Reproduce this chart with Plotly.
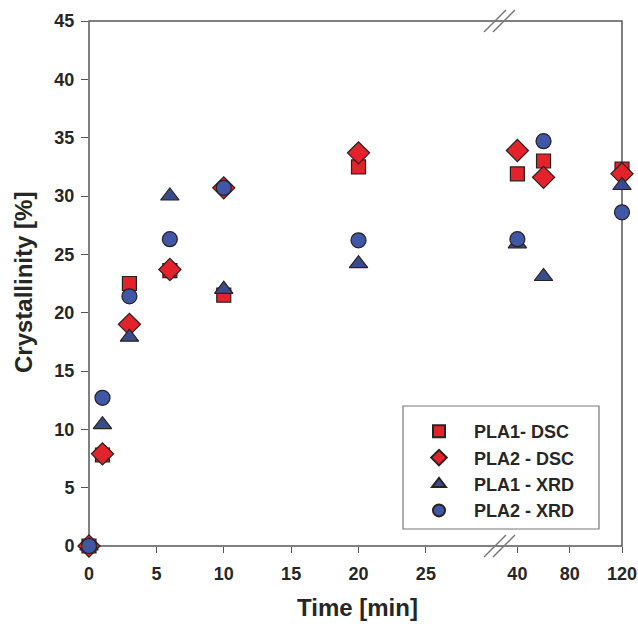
import plotly.graph_objects as go

time = [0, 1, 3, 6, 10, 20, 40, 60, 120]
pla1_dsc = [0, 7.8, 22.5, 23.6, 21.5, 32.5, 31.9, 33.0, 32.3]
pla2_dsc = [0, 7.9, 19.0, 23.7, 30.7, 33.7, 33.9, 31.6, 31.9]
pla1_xrd = [0, 10.4, 17.9, 30.0, 22.0, 24.2, 25.9, 23.1, 30.9]
pla2_xrd = [0, 12.7, 21.4, 26.3, 30.7, 26.2, 26.3, 34.7, 28.6]

series_names = ["PLA1- DSC", "PLA2 - DSC", "PLA1 - XRD", "PLA2 - XRD"]
x_ticks_left = [0, 5, 10, 15, 20, 25]
x_ticks_right = [40, 80, 120]
y_ticks = [0, 5, 10, 15, 20, 25, 30, 35, 40, 45]
break_at = 30  # times above this go to the right-hand segment

RED = "#e3222b"
BLUE_C = "#3f57a6"
BLUE_T = "#394c8a"
EDGE = "#2a2020"

styles = [
    dict(symbol="square", size=14, color=RED),
    dict(symbol="diamond", size=17, color=RED),
    dict(symbol="triangle-up", size=16, color=BLUE_T),
    dict(symbol="circle", size=15, color=BLUE_C),
]
values = [pla1_dsc, pla2_dsc, pla1_xrd, pla2_xrd]

FONT = "Liberation Sans, Arial, sans-serif"
TXT = "#262626"

fig = go.Figure()
for name, vals, st in zip(series_names, values, styles):
    xl = [t for t in time if t <= break_at]
    yl = [v for t, v in zip(time, vals) if t <= break_at]
    xr = [t for t in time if t > break_at]
    yr = [v for t, v in zip(time, vals) if t > break_at]
    mk = dict(symbol=st["symbol"], size=st["size"], color=st["color"],
              line=dict(color=EDGE, width=1.2))
    fig.add_trace(go.Scatter(x=xl, y=yl, mode="markers", name=name, marker=mk,
                             legendgroup=name, xaxis="x", yaxis="y",
                             cliponaxis=False))
    fig.add_trace(go.Scatter(x=xr, y=yr, mode="markers", name=name, marker=mk,
                             legendgroup=name, showlegend=False,
                             xaxis="x2", yaxis="y", cliponaxis=False))

# page body margin is removed in the page (post_script); design in page pixels
W, H = 638, 627
PL, PR, PT, PB = 89, 622, 21, 546   # plot area in page pixels
L, T = PL, PT
R, B = W - PR, H - PB
pw = PR - PL
ph = PB - PT
brk_px = 500
d1 = (brk_px - PL) / pw


def px2paper(px, py):
    return (px - PL) / pw, (PB - py) / ph


tickfont = dict(family=FONT, size=18, color=TXT, weight="bold")
axcommon = dict(ticks="outside", tickwidth=1.2, tickcolor="#555", automargin=False,
                showgrid=False, zeroline=False, showline=False, tickfont=tickfont,
                ticklabeloverflow="allow")

lx, ly = px2paper(404, 413)
fig.update_layout(
    width=W, height=H,
    margin=dict(l=L, r=R, t=T, b=B),
    paper_bgcolor="white", plot_bgcolor="white",
    showlegend=True,
    xaxis=dict(domain=[0, d1], range=[0, 30.5], tickvals=x_ticks_left,
               ticklen=6, ticklabelstandoff=5, anchor="y", **axcommon),
    xaxis2=dict(domain=[d1, 1], range=[26.7, 120], tickvals=x_ticks_right,
                ticklen=6, ticklabelstandoff=5, anchor="y", **axcommon),
    yaxis=dict(range=[0, 45], tickvals=y_ticks, anchor="x", ticklen=7,
               ticklabelstandoff=3, **axcommon),
    legend=dict(x=lx, y=ly, xanchor="left", yanchor="top",
                borderwidth=0, bgcolor="rgba(0,0,0,0)",
                itemwidth=60, tracegroupgap=0, itemsizing="constant",
                font=dict(family=FONT, size=18, color=TXT, weight="bold")),
)

tx, ty = px2paper(357, 607)
fig.add_annotation(text="Time [min]", xref="paper", yref="paper",
                   x=tx, y=ty, showarrow=False, xanchor="center", yanchor="middle",
                   font=dict(family=FONT, size=24, color=TXT, weight="bold"))
yx, yy = px2paper(23, 283)
fig.add_annotation(text="Crystallinity [%]", xref="paper", yref="paper",
                   x=yx, y=yy, showarrow=False, textangle=-90,
                   xanchor="center", yanchor="middle",
                   font=dict(family=FONT, size=24, color=TXT, weight="bold"))

# frame
fig.add_shape(type="rect", xref="paper", yref="paper", x0=0, x1=1, y0=0, y1=1,
              line=dict(color="#555", width=1.5), layer="below")

# legend box
bx0, by0 = px2paper(403, 529)
bx1, by1 = px2paper(599, 406)
fig.add_shape(type="rect", xref="paper", yref="paper", x0=bx0, x1=bx1, y0=by0, y1=by1,
              line=dict(color="#777", width=1.2), layer="below")

# axis-break marks
for ybase in (PT, PB):
    for dx in (0, 9):
        x0, y0 = px2paper(484 + dx, ybase + 11)
        x1, y1 = px2paper(506 + dx, ybase - 11)
        fig.add_shape(type="line", xref="paper", yref="paper",
                      x0=x0, y0=y0, x1=x1, y1=y1,
                      line=dict(color="#777", width=1.5))

fig.write_html("out.html", config={"displayModeBar": False},
               post_script="document.body.style.margin='0px';")
